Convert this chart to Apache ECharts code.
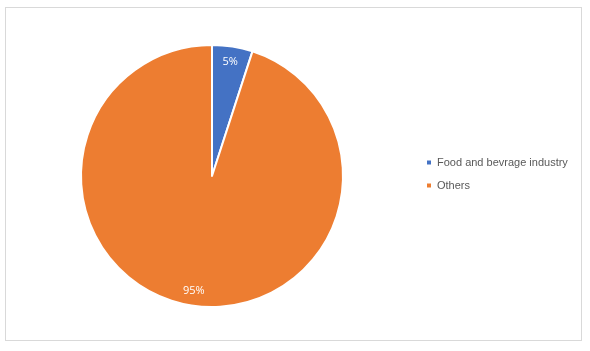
<!DOCTYPE html>
<html>
<head>
<meta charset="utf-8">
<script src="https://cdn.jsdelivr.net/npm/echarts@6/dist/echarts.min.js"></script>
<style>
  html, body { margin: 0; padding: 0; background: #fff; }
  #frame { position: absolute; left: 5px; top: 7px; width: 577px; height: 334px; border: 1px solid #d9d9d9; box-sizing: border-box; }
  #main { position: absolute; left: 0; top: 0; width: 590px; height: 351px; }
</style>
</head>
<body>
<div id="frame"></div>
<div id="main"></div>
<script>
var categories = ['Food and bevrage industry', 'Others'];
var values = [5, 95];
var colors = ['#4472C4', '#ED7D31'];

var pieData = [];
for (var i = 0; i < categories.length; i++) {
    pieData.push({ name: categories[i], value: values[i], itemStyle: { color: colors[i] } });
}

var chart = echarts.init(document.getElementById('main'));
chart.setOption({
    animation: false,
    legend: {
        orient: 'vertical',
        left: 425,
        top: 157,
        padding: 0,
        itemWidth: 6,
        itemHeight: 6,
        itemGap: 12,
        icon: 'rect',
        textStyle: { color: '#595959', fontSize: 11, fontFamily: 'Liberation Sans' },
        data: categories
    },
    series: [{
        type: 'pie',
        center: [212, 176],
        radius: 131,
        startAngle: 90,
        clockwise: true,
        label: { show: false },
        labelLine: { show: false },
        itemStyle: { borderColor: '#fff', borderWidth: 2 },
        emphasis: { disabled: true },
        data: pieData
    }, {
        // transparent ring only used to place the percentage labels
        type: 'pie',
        center: [212, 176],
        radius: [95, 131],
        startAngle: 90,
        silent: true,
        itemStyle: { color: 'rgba(0,0,0,0)' },
        label: {
            show: true,
            position: 'inside',
            formatter: '{c}%',
            color: '#fff',
            fontSize: 11,
            fontFamily: 'Open Sans'
        },
        labelLine: { show: false },
        data: pieData.map(function (d) { return { name: d.name, value: d.value }; })
    }]
});
</script>
</body>
</html>
